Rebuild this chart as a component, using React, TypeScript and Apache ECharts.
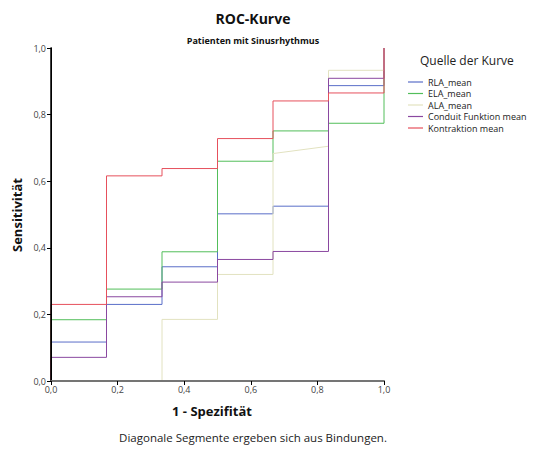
import React, { useEffect, useRef } from "react";
import * as echarts from "echarts";

const seriesNames = ["RLA_mean", "ELA_mean", "ALA_mean", "Conduit Funktion mean", "Kontraktion mean"];
const seriesColors = ["#5a6ec8", "#52be5a", "#e2e2c0", "#8a48a0", "#e6505c"];

// ROC points [1 - Spezifität, Sensitivität]
const rlaPoints = [
  [0, 0], [0, 0.117], [1 / 6, 0.117], [1 / 6, 0.23], [1 / 3, 0.23], [1 / 3, 0.343], [0.5, 0.343],
  [0.5, 0.502], [2 / 3, 0.502], [2 / 3, 0.525], [5 / 6, 0.525], [5 / 6, 0.887], [1, 0.887], [1, 1],
];
const elaPoints = [
  [0, 0], [0, 0.184], [1 / 6, 0.184], [1 / 6, 0.276], [1 / 3, 0.276], [1 / 3, 0.388], [0.5, 0.388],
  [0.5, 0.66], [2 / 3, 0.66], [2 / 3, 0.751], [5 / 6, 0.751], [5 / 6, 0.774], [1, 0.774], [1, 1],
];
const alaPoints = [
  [0, 0], [1 / 3, 0], [1 / 3, 0.185], [0.5, 0.185], [0.5, 0.32], [2 / 3, 0.32], [2 / 3, 0.683],
  [5 / 6, 0.705], [5 / 6, 0.933], [1, 0.933], [1, 1],
];
const conduitPoints = [
  [0, 0], [0, 0.071], [1 / 6, 0.071], [1 / 6, 0.253], [1 / 3, 0.253], [1 / 3, 0.297], [0.5, 0.297],
  [0.5, 0.365], [2 / 3, 0.365], [2 / 3, 0.389], [5 / 6, 0.389], [5 / 6, 0.909], [1, 0.909], [1, 1],
];
const kontraktionPoints = [
  [0, 0], [0, 0.23], [1 / 6, 0.23], [1 / 6, 0.616], [1 / 3, 0.616], [1 / 3, 0.638], [0.5, 0.638],
  [0.5, 0.728], [2 / 3, 0.728], [2 / 3, 0.841], [5 / 6, 0.841], [5 / 6, 0.865], [1, 0.865], [1, 1],
];
const allPoints = [rlaPoints, elaPoints, alaPoints, conduitPoints, kontraktionPoints];

const titleText = "ROC-Kurve";
const subtitleText = "Patienten mit Sinusrhythmus";
const xAxisTitle = "1 - Spezifität";
const yAxisTitle = "Sensitivität";
const legendTitle = "Quelle der Kurve";
const footnote = "Diagonale Segmente ergeben sich aus Bindungen.";

const FONT = "'Open Sans', 'DejaVu Sans', sans-serif";
const fmt = (v: number) => v.toFixed(1).replace(".", ",");

export default function App() {
  const ref = useRef<HTMLDivElement>(null);
  useEffect(() => {
    if (!ref.current) return;
    const chart = echarts.init(ref.current, null, { renderer: "svg" });
    chart.setOption({
      animation: false,
      backgroundColor: "#ffffff",
      textStyle: { fontFamily: FONT },
      grid: { left: 51, right: 156, top: 48, bottom: 69 },
      xAxis: [
        {
          type: "value",
          min: 0,
          max: 1,
          interval: 0.2,
          position: "bottom",
          z: 20,
          axisLine: { show: true, lineStyle: { color: "#000", width: 1.5 } },
          axisTick: { show: true, length: 4, lineStyle: { color: "#000" } },
          axisLabel: { formatter: fmt, fontSize: 9, color: "#444", margin: 4, fontFamily: FONT },
          splitLine: { show: false },
        },
        {
          type: "value",
          min: 0,
          max: 1,
          position: "top",
          z: 20,
          axisLine: { show: true, lineStyle: { color: "#888", width: 1.5 } },
          axisTick: { show: false },
          axisLabel: { show: false },
          splitLine: { show: false },
        },
      ],
      yAxis: [
        {
          type: "value",
          min: 0,
          max: 1,
          interval: 0.2,
          position: "left",
          z: 20,
          axisLine: { show: true, lineStyle: { color: "#000", width: 1.5 } },
          axisTick: { show: true, length: 4, lineStyle: { color: "#000" } },
          axisLabel: { formatter: fmt, fontSize: 9, color: "#444", margin: 5, fontFamily: FONT },
          splitLine: { show: false },
        },
        {
          type: "value",
          min: 0,
          max: 1,
          position: "right",
          z: 20,
          axisLine: { show: true, lineStyle: { color: "#000", width: 1 } },
          axisTick: { show: false },
          axisLabel: { show: false },
          splitLine: { show: false },
        },
      ],
      legend: {
        orient: "vertical",
        left: 403,
        top: 72,
        itemGap: 1.5,
        itemWidth: 15,
        itemHeight: 1.2,
        icon: "rect",
        data: seriesNames,
        textStyle: { fontSize: 9, lineHeight: 10, color: "#222", fontFamily: FONT },
        itemStyle: { borderWidth: 0 },
      },
      series: seriesNames.map((name, i) => ({
        name,
        type: "line",
        data: allPoints[i],
        showSymbol: false,
        symbol: "none",
        color: seriesColors[i],
        lineStyle: { width: 1, color: seriesColors[i] },
        z: 2 + i,
      })),
      graphic: [
        {
          type: "text",
          x: 253,
          y: 18,
          style: { text: titleText, font: `bold 14px ${FONT}`, fill: "#111", align: "center", verticalAlign: "middle" },
        },
        {
          type: "text",
          x: 253,
          y: 40,
          style: { text: subtitleText, font: `bold 9px ${FONT}`, fill: "#111", align: "center", verticalAlign: "middle" },
        },
        {
          type: "text",
          x: 212,
          y: 411,
          style: { text: xAxisTitle, font: `bold 13px ${FONT}`, fill: "#111", align: "center", verticalAlign: "middle" },
        },
        {
          type: "text",
          x: 17,
          y: 215,
          rotation: Math.PI / 2,
          style: { text: yAxisTitle, font: `bold 13px ${FONT}`, fill: "#111", align: "center", verticalAlign: "middle" },
        },
        {
          type: "text",
          x: 420,
          y: 60,
          style: { text: legendTitle, font: `12px ${FONT}`, fill: "#222", align: "left", verticalAlign: "middle" },
        },
        {
          type: "text",
          x: 253,
          y: 437,
          style: { text: footnote, font: `11.5px ${FONT}`, fill: "#222", align: "center", verticalAlign: "middle" },
        },
      ],
    });
    return () => chart.dispose();
  }, []);
  return <div ref={ref} style={{ position: "absolute", left: 0, top: 0, width: 540, height: 450 }} />;
}
